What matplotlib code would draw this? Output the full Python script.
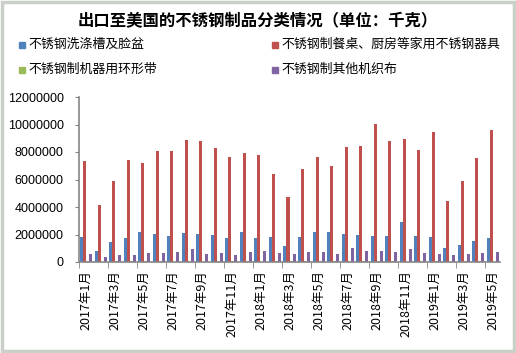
import matplotlib
matplotlib.use("Agg")
import matplotlib.pyplot as plt
import numpy as np
from matplotlib.patches import Rectangle

plt.rcParams['font.family'] = ['Noto Sans CJK SC', 'DejaVu Sans']

# ── Data (kg) ───────────────────────────────────────────────
months = [f"{y}年{m}月" for y, m in
          [(2017, m) for m in range(1, 13)] + [(2018, m) for m in range(1, 13)]
          + [(2019, m) for m in range(1, 6)]]

sinks = [1800000, 780000, 1440000, 1730000, 2170000, 2020000, 1880000, 2100000,
         2020000, 1950000, 1730000, 2170000, 1730000, 1800000, 1150000, 1800000,
         2170000, 2170000, 2020000, 1950000, 1880000, 1880000, 2900000, 1880000,
         1800000, 1000000, 1220000, 1510000, 1730000]
kitchen = [7370000, 4150000, 5900000, 7440000, 7220000, 8100000, 8100000, 8900000,
           8830000, 8320000, 7660000, 7950000, 7800000, 6410000, 4730000, 6780000,
           7660000, 7000000, 8390000, 8460000, 10070000, 8830000, 8980000, 8170000,
           9490000, 4440000, 5900000, 7590000, 9630000]
belts = [80000, 20000, 80000, 80000, 80000, 80000, 20000, 80000,
         20000, 80000, 80000, 80000, 20000, 80000, 80000, 80000,
         80000, 80000, 80000, 80000, 80000, 80000, 20000, 80000,
         80000, 20000, 80000, 80000, 20000]
cloth = [560000, 340000, 490000, 490000, 630000, 630000, 710000, 930000,
         560000, 630000, 490000, 710000, 780000, 630000, 560000, 710000,
         710000, 560000, 1000000, 780000, 780000, 710000, 930000, 630000,
         560000, 490000, 560000, 630000, 710000]

series = [
    ("不锈钢洗涤槽及脸盆", sinks, "#4f81bd"),
    ("不锈钢制餐桌、厨房等家用不锈钢器具", kitchen, "#c0504d"),
    ("不锈钢制机器用环形带", belts, "#9bbb59"),
    ("不锈钢制其他机织布", cloth, "#8064a2"),
]

fig = plt.figure(figsize=(5.16, 3.53), dpi=100)
W, H = 516, 353
ax = fig.add_axes([79 / W, 1 - 262 / H, 421 / W, 165 / H])

x = np.arange(len(months))
bw = 0.207
for i, (name, vals, color) in enumerate(series):
    ax.bar(x + (i - 1.5) * bw, vals, width=bw, color=color, linewidth=0)

ax.set_xlim(-0.5, len(months) - 0.5)
ax.set_ylim(0, 12000000)
yt = np.arange(0, 12000001, 2000000)
ax.set_yticks(yt)
ax.set_yticklabels([f"{int(v)}" for v in yt], fontsize=9, family="Liberation Sans")
ax.set_xticks(x[::2])
ax.set_xticklabels(months[::2], rotation=90, fontsize=9,
                   family=["Noto Sans CJK SC", "DejaVu Sans"])
ax.set_xticks(np.arange(-0.5, len(months), 2), minor=True)
ax.tick_params(axis="x", which="major", length=0, pad=6)
ax.tick_params(axis="x", which="minor", length=4, color="#868686", direction="out")
ax.tick_params(axis="y", length=3, color="#868686", direction="out", pad=8)

for s in ("top", "right"):
    ax.spines[s].set_visible(False)
for s in ("left", "bottom"):
    ax.spines[s].set_color("#868686")
    ax.spines[s].set_linewidth(1.2)

fig.text(0.5, 1 - 21 / H, "出口至美国的不锈钢制品分类情况（单位：千克）",
         ha="center", va="center", fontsize=11.8, fontweight="bold")

legend_pos = [(19, 44), (272, 44), (19, 69), (272, 69)]
for (name, _, color), (lx, ly) in zip(series, legend_pos):
    fig.patches.append(Rectangle((lx / W, 1 - (ly + 4) / H), 6 / W, 6 / H,
                                 transform=fig.transFigure, color=color))
    fig.text((lx + 9) / W, 1 - ly / H, name, ha="left", va="center", fontsize=9.3)

fig.patches.append(Rectangle((2 / W, 2 / H), 1 - 4 / W, 1 - 4 / H, transform=fig.transFigure,
                             fill=False, edgecolor="#c8d0c8", linewidth=2.5))

fig.savefig("out.png", dpi=100)
